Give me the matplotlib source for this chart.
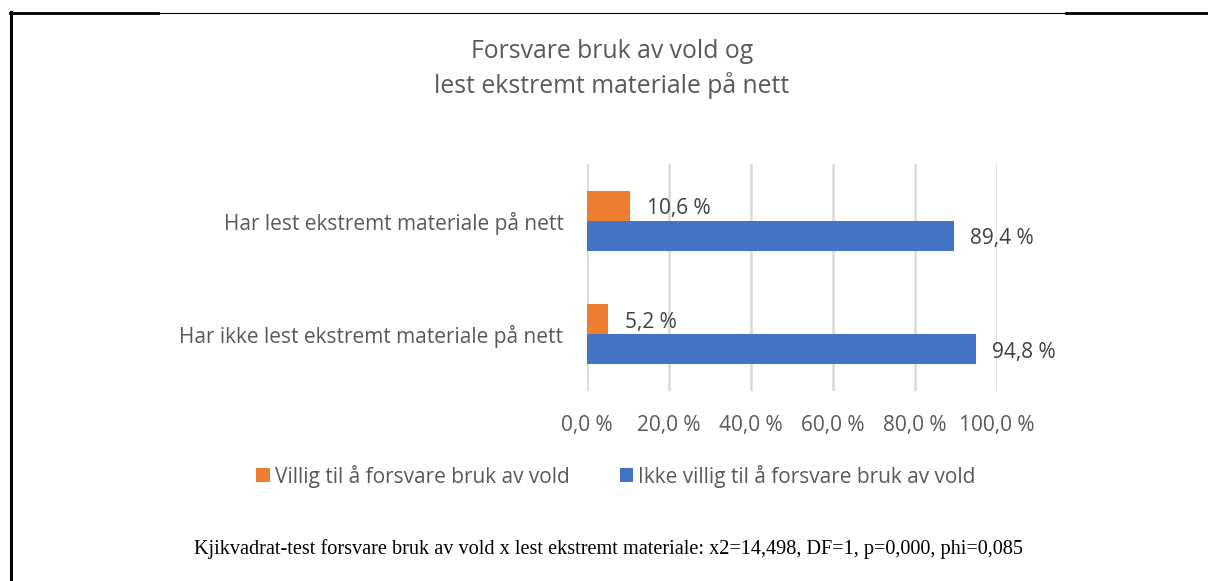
import matplotlib
matplotlib.use("Agg")
import matplotlib.pyplot as plt
from matplotlib.lines import Line2D
import numpy as np

categories = ["Har lest ekstremt materiale på nett", "Har ikke lest ekstremt materiale på nett"]
series_names = ["Villig til å forsvare bruk av vold", "Ikke villig til å forsvare bruk av vold"]
villig = [10.6, 5.2]
ikke_villig = [89.4, 94.8]
xticks = [0, 20, 40, 60, 80, 100]
xtick_labels = ["0,0 %", "20,0 %", "40,0 %", "60,0 %", "80,0 %", "100,0 %"]
title = "Forsvare bruk av vold og\nlest ekstremt materiale på nett"
footnote = "Kjikvadrat-test forsvare bruk av vold x lest ekstremt materiale: x2=14,498, DF=1, p=0,000, phi=0,085"

ORANGE = "#ED7D31"
BLUE = "#4472C4"
GRAY = "#595959"
GRID = "#D9D9D9"
FONT = ["Open Sans", "DejaVu Sans"]
FS = 15

W, H = 1208, 581
fig = plt.figure(figsize=(W / 100, H / 100), dpi=100)
fig.patch.set_facecolor("white")

# axes: x 587..997, y 164..391 (pixels from top)
ax = fig.add_axes([587 / W, 1 - 391 / H, (997 - 587) / W, (391 - 164) / H])

y = np.arange(len(categories))
bh = 0.264
ax.barh(y - bh / 2, villig, height=bh, color=ORANGE, label=series_names[0], zorder=3)
ax.barh(y + bh / 2, ikke_villig, height=bh, color=BLUE, label=series_names[1], zorder=3)

for i, v in enumerate(villig):
    ax.annotate(f"{v:.1f} %".replace(".", ","), xy=(v, y[i] - bh / 2), xytext=(12, -2),
                textcoords="offset points", va="center", ha="left",
                fontsize=FS, color="#404040", family=FONT)
for i, v in enumerate(ikke_villig):
    ax.annotate(f"{v:.1f} %".replace(".", ","), xy=(v, y[i] + bh / 2), xytext=(12, -2),
                textcoords="offset points", va="center", ha="left",
                fontsize=FS, color="#404040", family=FONT)

ax.set_xlim(0, 100)
ax.set_ylim(len(categories) - 0.5, -0.5)
ax.set_xticks(xticks)
ax.set_xticklabels(xtick_labels, fontsize=FS, color=GRAY, family=FONT)
ax.set_yticks(y)
ax.set_yticklabels(categories, fontsize=FS, color=GRAY, family=FONT)
ax.tick_params(axis="both", length=0)
ax.tick_params(axis="x", pad=17)
ax.tick_params(axis="y", pad=17)
ax.grid(axis="x", color=GRID, linewidth=1.8, zorder=0)
for s in ax.spines.values():
    s.set_visible(False)

fig.text(612 / W, 1 - 69 / H, title, ha="center", va="center", fontsize=17.8, color=GRAY,
         family=FONT, linespacing=1.35)

leg = fig.legend(loc="center", bbox_to_anchor=(616 / W, 1 - 476 / H), ncol=2, frameon=False,
                 prop={"family": FONT, "size": FS}, handlelength=0.65, handleheight=0.65,
                 handletextpad=0.25, columnspacing=2.4, borderaxespad=0)
for t in leg.get_texts():
    t.set_color(GRAY)

fig.text(608 / W, 1 - 549 / H, footnote, ha="center", va="center", fontsize=14.6,
         color="black", family=["Liberation Serif", "DejaVu Serif"])

# frame decoration
fig.add_artist(Line2D([10.5 / W, 10.5 / W], [0, 1 - 12 / H], color="black", lw=2.2, transform=fig.transFigure))
fig.add_artist(Line2D([10 / W, 158 / W], [1 - 13 / H, 1 - 13 / H], color="black", lw=2.0, transform=fig.transFigure))
fig.add_artist(Line2D([158 / W, 1066 / W], [1 - 12.5 / H, 1 - 12.5 / H], color="black", lw=0.8, transform=fig.transFigure))
fig.add_artist(Line2D([1066 / W, 1], [1 - 13 / H, 1 - 13 / H], color="black", lw=2.0, transform=fig.transFigure))

fig.savefig("out.png", dpi=100, facecolor="white")
